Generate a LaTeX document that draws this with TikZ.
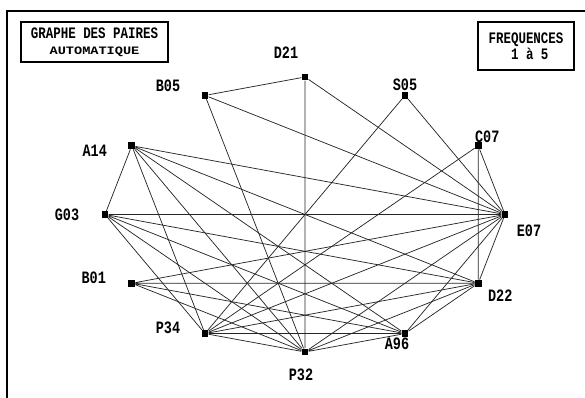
\documentclass[tikz,border=0pt]{standalone}
\usepackage{fontspec}
\newfontfamily\dosfont[FakeStretch=0.78]{Liberation Mono}
\newfontfamily\doswide[FakeStretch=1.2]{Liberation Mono}

\begin{document}
\begin{tikzpicture}[
    x=0.75pt, y=0.75pt,
    sq/.style={rectangle, fill=black, inner sep=0pt, minimum size=5pt},
    edge/.style={black!85, line width=0.55pt},
    lbl/.style={font=\dosfont\bfseries\fontsize{13}{13}\selectfont, inner sep=0pt},
    infobox/.style={draw, line width=0.9pt, inner sep=0pt, align=center}
]
    \useasboundingbox (0,0) rectangle (585,398);

    % Frame
    \draw[line width=1.5pt] (7,0) -- (7,387) -- (585,387);

    % Title boxes
    \node[infobox, minimum width=110.25pt, minimum height=30pt] (title) at (94.5,356)
        {{\dosfont\bfseries\fontsize{12}{11.25}\selectfont GRAPHE DES PAIRES}\\
         {\doswide\bfseries\fontsize{8.5}{8.5}\selectfont AUTOMATIQUE}};
    \node[infobox, minimum width=72pt, minimum height=36pt] (freq) at (526,352)
        {{\dosfont\bfseries\fontsize{12}{12.75}\selectfont FREQUENCES}\\
         {\dosfont\bfseries\fontsize{12}{12}\selectfont\ 1 à 5}};

    % Points on the ellipse
    \begin{scope}[shift={(305,183.5)}]
        \node[sq] (D21) at (90:200 and 137.5) {};
        \node[sq] (S05) at (60:200 and 137.5) {};
        \node[sq] (C07) at (30:200 and 137.5) {};
        \node[sq] (E07) at (0:200 and 137.5) {};
        \node[sq] (D22) at (-30:200 and 137.5) {};
        \node[sq] (A96) at (-60:200 and 137.5) {};
        \node[sq] (P32) at (-90:200 and 137.5) {};
        \node[sq] (P34) at (-120:200 and 137.5) {};
        \node[sq] (B01) at (-150:200 and 137.5) {};
        \node[sq] (G03) at (180:200 and 137.5) {};
        \node[sq] (A14) at (150:200 and 137.5) {};
        \node[sq] (B05) at (120:200 and 137.5) {};
    \end{scope}

    % Pairs
    \draw[edge] (D21) -- (B05) (D21) -- (P32) (D21) -- (E07);
    \draw[edge] (B05) -- (E07) (B05) -- (P32);
    \draw[edge] (S05) -- (E07) (S05) -- (P34);
    \draw[edge] (C07) -- (E07) (C07) -- (D22) (C07) -- (P34);
    \draw[edge] (A14) -- (G03) (A14) -- (E07) (A14) -- (D22) (A14) -- (A96)
                (A14) -- (P32) (A14) -- (P34);
    \draw[edge] (G03) -- (E07) (G03) -- (D22) (G03) -- (A96) (G03) -- (P32)
                (G03) -- (P34);
    \draw[edge] (B01) -- (E07) (B01) -- (D22) (B01) -- (A96) (B01) -- (P32);
    \draw[edge] (P34) -- (E07) (P34) -- (D22) (P34) -- (A96) (P34) -- (P32);
    \draw[edge] (P32) -- (A96) (P32) -- (D22) (P32) -- (E07);
    \draw[edge] (E07) -- (D22) (E07) -- (A96) (D22) -- (A96);

    % Labels
    \node[lbl] (lD21) at ([shift={(-19,24)}]D21) {D21};
    \node[lbl] (lB05) at ([shift={(-37,10)}]B05) {B05};
    \node[lbl] (lS05) at ([shift={(0,11)}]S05) {S05};
    \node[lbl] (lC07) at ([shift={(9,9)}]C07) {C07};
    \node[lbl] (lA14) at ([shift={(-37,-5)}]A14) {A14};
    \node[lbl] (lG03) at ([shift={(-38,0)}]G03) {G03};
    \node[lbl] (lB01) at ([shift={(-38,5)}]B01) {B01};
    \node[lbl] (lP34) at ([shift={(-37,6)}]P34) {P34};
    \node[lbl] (lP32) at ([shift={(-4,-23)}]P32) {P32};
    \node[lbl] (lA96) at ([shift={(-8,-10)}]A96) {A96};
    \node[lbl] (lD22) at ([shift={(22,-12)}]D22) {D22};
    \node[lbl] (lE07) at ([shift={(24,-16)}]E07) {E07};

\end{tikzpicture}
\end{document}
